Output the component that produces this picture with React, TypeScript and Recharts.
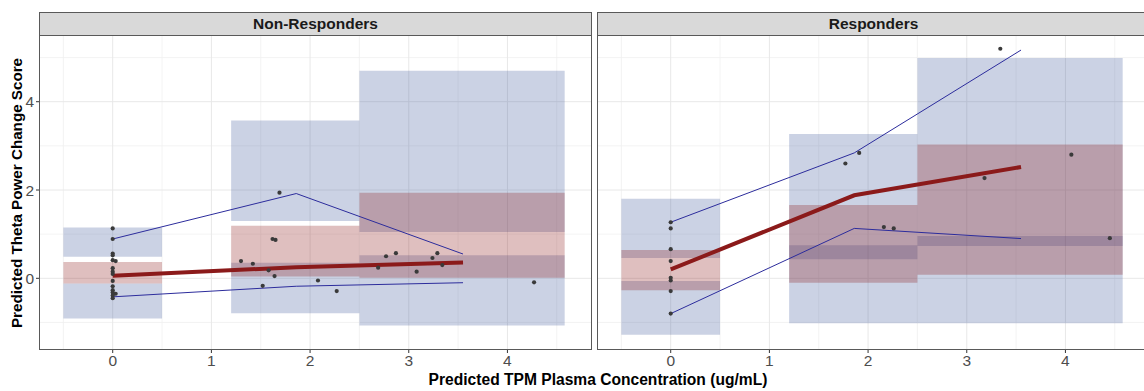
import React from 'react';
import { ComposedChart, XAxis, YAxis, CartesianGrid, ReferenceArea, Line, Scatter } from 'recharts';

// axis breaks
const xTicks = [0, 1, 2, 3, 4];
const xMinor = [-0.5, 0.5, 1.5, 2.5, 3.5, 4.5];
const yTicks = [0, 2, 4];
const yMinor = [-1, 1, 3, 5];
const xDomain = [-0.747, 4.857];
const yDomain = [-1.624, 5.511];

// concentration bins used for the interval boxes
const binLo = [-0.5, 1.2, 2.5];
const binHi = [0.5, 2.5, 4.58];

// Non-Responders boxes
const nrOuterTopLo = [0.49, 1.3, 1.05];
const nrOuterTopHi = [1.15, 3.575, 4.7];
const nrOuterBotLo = [-0.91, -0.79, -1.07];
const nrOuterBotHi = [-0.12, 0.35, 0.52];
const nrInnerLo = [-0.12, 0.04, 0.015];
const nrInnerHi = [0.37, 1.19, 1.94];

// Responders boxes
const rOuterTopLo = [0.46, 0.43, 0.73];
const rOuterTopHi = [1.8, 3.27, 4.99];
const rOuterBotLo = [-1.28, -1.02, -1.02];
const rOuterBotHi = [-0.06, 0.75, 0.96];
const rInnerLo = [-0.27, -0.1, 0.08];
const rInnerHi = [0.64, 1.66, 3.03];

// fitted curves
const curveX = [0, 1.86, 3.55];
const nrMean = [0.06, 0.25, 0.36];
const nrUpper = [0.89, 1.92, 0.55];
const nrLower = [-0.42, -0.18, -0.1];
const rMean = [0.2, 1.88, 2.52];
const rUpper = [1.27, 2.84, 5.17];
const rLower = [-0.8, 1.13, 0.9];

// observed subjects
const nrPointX = [0, 0, 0, 0, 0, 0.03, 0, 0, 0, 0, 0, 0, 0, 0.03, 0, 0,
  1.3, 1.42, 1.62, 1.65, 1.64, 1.52, 1.58, 1.69, 2.08, 2.27, 2.69, 2.77, 2.87, 3.08, 3.24, 3.29, 3.34, 4.27];
const nrPointY = [1.13, 0.89, 0.56, 0.52, 0.41, 0.39, 0.23, 0.15, 0.1, -0.06, -0.18, -0.27, -0.32, -0.35, -0.39, -0.45,
  0.39, 0.33, 0.89, 0.87, 0.05, -0.17, 0.18, 1.94, -0.05, -0.29, 0.24, 0.5, 0.57, 0.15, 0.46, 0.57, 0.3, -0.09];
const rPointX = [0, 0, 0, 0, 0, 0, 0, 0, 1.77, 1.91, 2.16, 2.26, 3.18, 3.34, 4.06, 4.45];
const rPointY = [1.27, 1.13, 0.66, 0.39, 0.01, -0.05, -0.29, -0.8, 2.6, 2.84, 1.16, 1.13, 2.27, 5.2, 2.8, 0.91];

const FONT = '"Liberation Sans", Arial, Helvetica, sans-serif';
const BLUE_FILL = '#2e4a94';
const RED_FILL = '#8b1a1a';
const CURVE_BLUE = '#2c2c9c';

const zip = (xs: number[], ys: number[]) => xs.map((x, i) => ({ x, y: ys[i] }));

const dot = (p: any) => <circle cx={p.cx} cy={p.cy} r={2.1} fill="#3a3a3a" />;

const gridY = (vals: number[]) => (props: any) => {
  const { yAxis, offset } = props;
  if (yAxis && typeof yAxis.scale === 'function') return vals.map(v => yAxis.scale(v));
  return vals.map(v => offset.top + ((yDomain[1] - v) / (yDomain[1] - yDomain[0])) * offset.height);
};
const gridX = (vals: number[]) => (props: any) => {
  const { xAxis, offset } = props;
  if (xAxis && typeof xAxis.scale === 'function') return vals.map(v => xAxis.scale(v));
  return vals.map(v => offset.left + ((v - xDomain[0]) / (xDomain[1] - xDomain[0])) * offset.width);
};

type PanelProps = {
  title: string;
  left: number;
  showY: boolean;
  topLo: number[]; topHi: number[];
  botLo: number[]; botHi: number[];
  inLo: number[]; inHi: number[];
  mean: number[]; upper: number[]; lower: number[];
  px: number[]; py: number[];
};

const PLOT_W = 553;
const PLOT_TOP = 35;
const PLOT_H = 315;
const Y_AXIS_W = 39;

const Panel: React.FC<PanelProps> = (p) => {
  const axisW = p.showY ? Y_AXIS_W : 0;
  const plotLeft = p.left + axisW;
  return (
    <>
      <div style={{ position: 'absolute', left: p.left, top: 0 }}>
        <ComposedChart
          width={PLOT_W + axisW}
          height={PLOT_TOP + PLOT_H + 20}
          margin={{ top: PLOT_TOP, right: 0, bottom: 0, left: 0 }}
        >
          <CartesianGrid stroke="#f0f0f0" strokeWidth={0.8}
            horizontalCoordinatesGenerator={gridY(yMinor)} verticalCoordinatesGenerator={gridX(xMinor)} />
          <CartesianGrid stroke="#e8e8e8" strokeWidth={1}
            horizontalCoordinatesGenerator={gridY(yTicks)} verticalCoordinatesGenerator={gridX(xTicks)} />
          <XAxis dataKey="x" type="number" domain={xDomain} ticks={xTicks} allowDataOverflow
            height={20} axisLine={false} tickSize={3} tickMargin={2}
            tickLine={{ stroke: '#333' }}
            tick={{ fontSize: 15.5, fill: '#4d4d4d', fontFamily: FONT }} />
          <YAxis type="number" domain={yDomain} ticks={yTicks} allowDataOverflow hide={!p.showY}
            width={Y_AXIS_W} axisLine={false} tickSize={3} tickMargin={2}
            tickLine={{ stroke: '#333' }}
            tick={{ fontSize: 15.5, fill: '#4d4d4d', fontFamily: FONT }} />
          {binLo.map((b, i) => (
            <ReferenceArea key={'t' + i} x1={b} x2={binHi[i]} y1={p.topLo[i]} y2={p.topHi[i]}
              fill={BLUE_FILL} fillOpacity={0.25} stroke="none" ifOverflow="visible" />
          ))}
          {binLo.map((b, i) => (
            <ReferenceArea key={'b' + i} x1={b} x2={binHi[i]} y1={p.botLo[i]} y2={p.botHi[i]}
              fill={BLUE_FILL} fillOpacity={0.25} stroke="none" ifOverflow="visible" />
          ))}
          {binLo.map((b, i) => (
            <ReferenceArea key={'i' + i} x1={b} x2={binHi[i]} y1={p.inLo[i]} y2={p.inHi[i]}
              fill={RED_FILL} fillOpacity={0.28} stroke="none" ifOverflow="visible" />
          ))}
          <Scatter data={zip(p.px, p.py)} dataKey="y" shape={dot} isAnimationActive={false} />
          <Line data={zip(curveX, p.upper)} dataKey="y" type="linear" stroke={CURVE_BLUE} strokeWidth={1}
            dot={false} activeDot={false} isAnimationActive={false} />
          <Line data={zip(curveX, p.lower)} dataKey="y" type="linear" stroke={CURVE_BLUE} strokeWidth={1}
            dot={false} activeDot={false} isAnimationActive={false} />
          <Line data={zip(curveX, p.mean)} dataKey="y" type="linear" stroke={RED_FILL} strokeWidth={4}
            dot={false} activeDot={false} isAnimationActive={false} />
        </ComposedChart>
      </div>
      {/* strip */}
      <div style={{
        position: 'absolute', left: plotLeft, top: 11.7, width: PLOT_W, height: PLOT_TOP - 11.7 + 0.6,
        boxSizing: 'border-box', border: '1.3px solid #595959', background: '#d9d9d9',
        display: 'flex', alignItems: 'center', justifyContent: 'center',
        fontFamily: FONT, fontWeight: 'bold', fontSize: 15.5, color: '#1a1a1a',
      }}>{p.title}</div>
      {/* panel border */}
      <div style={{
        position: 'absolute', left: plotLeft, top: PLOT_TOP, width: PLOT_W, height: PLOT_H,
        boxSizing: 'border-box', border: '1.3px solid #595959', pointerEvents: 'none',
      }} />
    </>
  );
};

export default function App() {
  return (
    <div style={{ position: 'absolute', left: 0, top: 0, width: 1144, height: 391, overflow: 'hidden', background: '#fff' }}>
      <Panel title="Non-Responders" left={0} showY
        topLo={nrOuterTopLo} topHi={nrOuterTopHi} botLo={nrOuterBotLo} botHi={nrOuterBotHi}
        inLo={nrInnerLo} inHi={nrInnerHi}
        mean={nrMean} upper={nrUpper} lower={nrLower} px={nrPointX} py={nrPointY} />
      <Panel title="Responders" left={597} showY={false}
        topLo={rOuterTopLo} topHi={rOuterTopHi} botLo={rOuterBotLo} botHi={rOuterBotHi}
        inLo={rInnerLo} inHi={rInnerHi}
        mean={rMean} upper={rUpper} lower={rLower} px={rPointX} py={rPointY} />
      <div style={{
        position: 'absolute', left: 0, top: 193, width: 0, height: 0,
      }}>
        <div style={{
          position: 'absolute', left: 16, top: 0, transform: 'translate(-50%, -50%) rotate(-90deg)',
          whiteSpace: 'nowrap', fontFamily: FONT, fontWeight: 'bold', fontSize: 15.2, color: '#000',
        }}>Predicted Theta Power Change Score</div>
      </div>
      <div style={{
        position: 'absolute', left: 598, top: 380, transform: 'translate(-50%, -50%)',
        whiteSpace: 'nowrap', fontFamily: FONT, fontWeight: 'bold', fontSize: 15.6, color: '#000',
      }}>Predicted TPM Plasma Concentration (ug/mL)</div>
    </div>
  );
}
